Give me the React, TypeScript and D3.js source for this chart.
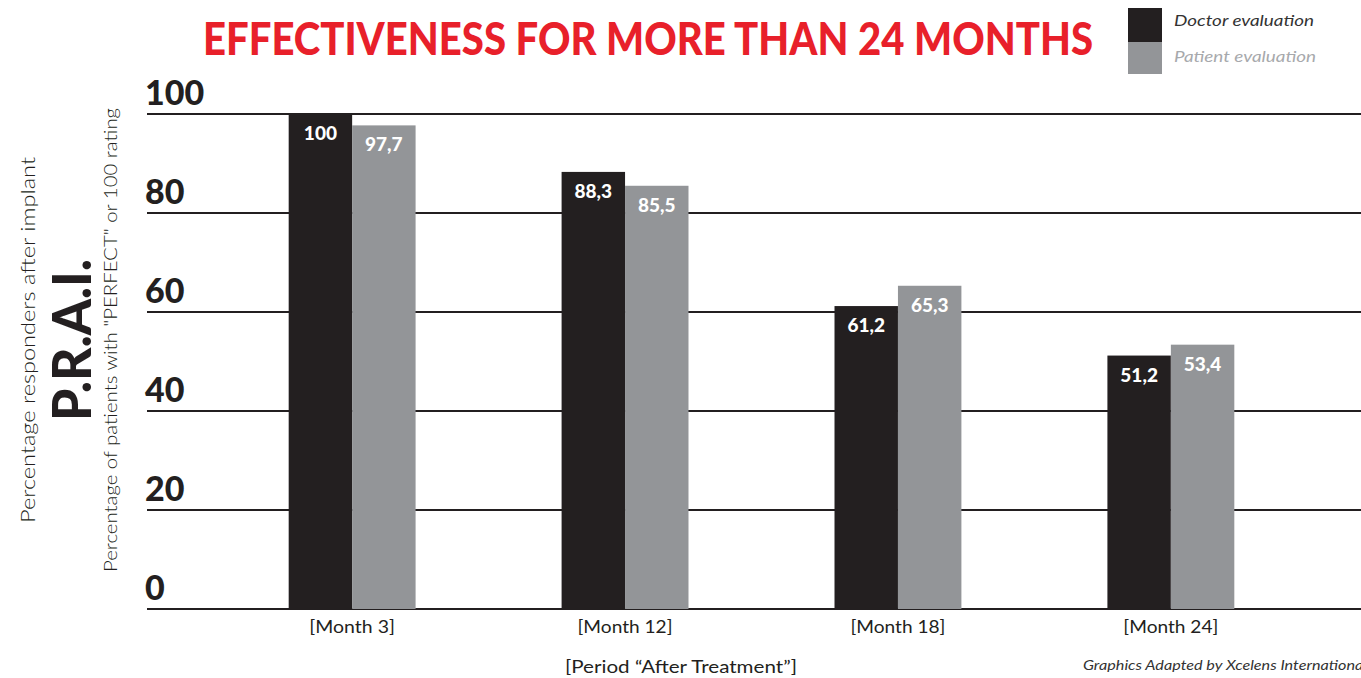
import React, { useEffect, useRef } from 'react';
import * as d3 from 'd3';

const categories = ['[Month 3]', '[Month 12]', '[Month 18]', '[Month 24]'];
const seriesNames = ['Doctor evaluation', 'Patient evaluation'];
const doctorValues = [100, 88.3, 61.2, 51.2];
const patientValues = [97.7, 85.5, 65.3, 53.4];
const yTicks = [0, 20, 40, 60, 80, 100];

const colors = ['#231f20', '#939598'];
const font = 'Lato, "Open Sans", sans-serif';

const App = () => {
  const ref = useRef<SVGSVGElement>(null);

  useEffect(() => {
    const width = 1361;
    const height = 678;
    const svg = d3.select(ref.current);
    svg.selectAll('*').remove();

    const y = d3.scaleLinear().domain([0, 100]).range([609, 114]);
    const x = d3.scaleBand().domain(categories).range([215, 1308]).paddingInner(0.535).paddingOuter(0.27);
    const xs = d3.scaleBand().domain(seriesNames).range([0, x.bandwidth()]);

    // title
    svg.append('text')
      .attr('x', 648).attr('y', 55)
      .attr('text-anchor', 'middle')
      .attr('textLength', 890).attr('lengthAdjust', 'spacingAndGlyphs')
      .style('font-family', font).style('font-weight', 900).style('font-size', '45px')
      .style('fill', '#e8202a')
      .text('EFFECTIVENESS FOR MORE THAN 24 MONTHS');

    // legend
    seriesNames.forEach((name, i) => {
      svg.append('rect')
        .attr('x', 1128).attr('y', 8 + i * 34)
        .attr('width', 34).attr('height', i === 0 ? 34 : 32)
        .attr('fill', colors[i]);
      svg.append('text')
        .attr('x', 1174).attr('y', 26 + i * 36)
        .attr('textLength', i === 0 ? 140 : 142).attr('lengthAdjust', 'spacingAndGlyphs')
        .style('font-family', font).style('font-style', 'italic').style('font-size', '15px')
        .style('fill', i === 0 ? '#333' : '#a7a9ac')
        .text(name);
    });

    // gridlines + y tick labels
    yTicks.forEach(t => {
      svg.append('line')
        .attr('x1', 147).attr('x2', width)
        .attr('y1', y(t)).attr('y2', y(t))
        .attr('stroke', '#231f20').attr('stroke-width', 2);
      svg.append('text')
        .attr('x', 145).attr('y', y(t) - 9)
        .style('font-family', font).style('font-weight', 900).style('font-size', '34px')
        .style('fill', '#231f20')
        .text(t);
    });

    // bars
    const rows = categories.map((c, i) => ({ cat: c, vals: [doctorValues[i], patientValues[i]] }));
    const g = svg.selectAll('.grp').data(rows).enter().append('g')
      .attr('transform', d => `translate(${x(d.cat)},0)`);
    g.selectAll('rect')
      .data(d => d.vals.map((v, i) => ({ v, s: seriesNames[i], i })))
      .enter().append('rect')
      .attr('x', d => xs(d.s)!)
      .attr('y', d => y(d.v))
      .attr('width', xs.bandwidth())
      .attr('height', d => y(0) - y(d.v))
      .attr('fill', d => colors[d.i]);
    g.selectAll('.lbl')
      .data(d => d.vals.map((v, i) => ({ v, s: seriesNames[i] })))
      .enter().append('text')
      .attr('x', d => xs(d.s)! + xs.bandwidth() / 2)
      .attr('y', d => y(d.v) + 26)
      .attr('text-anchor', 'middle')
      .style('font-family', font).style('font-weight', 900).style('font-size', '19px')
      .style('fill', '#fff')
      .text(d => String(d.v).replace('.', ','));

    // x tick labels
    categories.forEach(c => {
      svg.append('text')
        .attr('x', x(c)! + x.bandwidth() / 2).attr('y', 633)
        .attr('text-anchor', 'middle')
        .attr('textLength', c.length * 9.5).attr('lengthAdjust', 'spacingAndGlyphs')
        .style('font-family', font).style('font-size', '17px').style('fill', '#231f20')
        .text(c);
    });

    svg.append('text')
      .attr('x', 681).attr('y', 673)
      .attr('text-anchor', 'middle')
      .attr('textLength', 232).attr('lengthAdjust', 'spacingAndGlyphs')
      .style('font-family', font).style('font-size', '17px').style('fill', '#231f20')
      .text('[Period \u201CAfter Treatment\u201D]');

    svg.append('text')
      .attr('x', 1083).attr('y', 670)
      .attr('textLength', 284).attr('lengthAdjust', 'spacingAndGlyphs')
      .style('font-family', font).style('font-style', 'italic').style('font-size', '13px').style('fill', '#333')
      .text('Graphics Adapted by Xcelens International');

    // y axis titles
    const yTitle = (cx: number, len: number, size: number, weight: number, txt: string) =>
      svg.append('text')
        .attr('transform', `translate(${cx},340) rotate(-90)`)
        .attr('text-anchor', 'middle')
        .attr('textLength', len).attr('lengthAdjust', 'spacingAndGlyphs')
        .style('font-family', font).style('font-weight', weight).style('font-size', `${size}px`)
        .style('fill', '#231f20')
        .text(txt);
    yTitle(35, 366, 19, 300, 'Percentage responders after implant');
    yTitle(91, 162, 54, 900, 'P.R.A.I.');
    yTitle(117, 464, 18, 300, 'Percentage of patients with  "PERFECT" or 100 rating');

    svg.attr('width', width).attr('height', height);
  }, []);

  return (
    <svg ref={ref} width={1361} height={678}
      style={{ position: 'absolute', left: 0, top: 0, background: '#fff' }} />
  );
};

export default App;
